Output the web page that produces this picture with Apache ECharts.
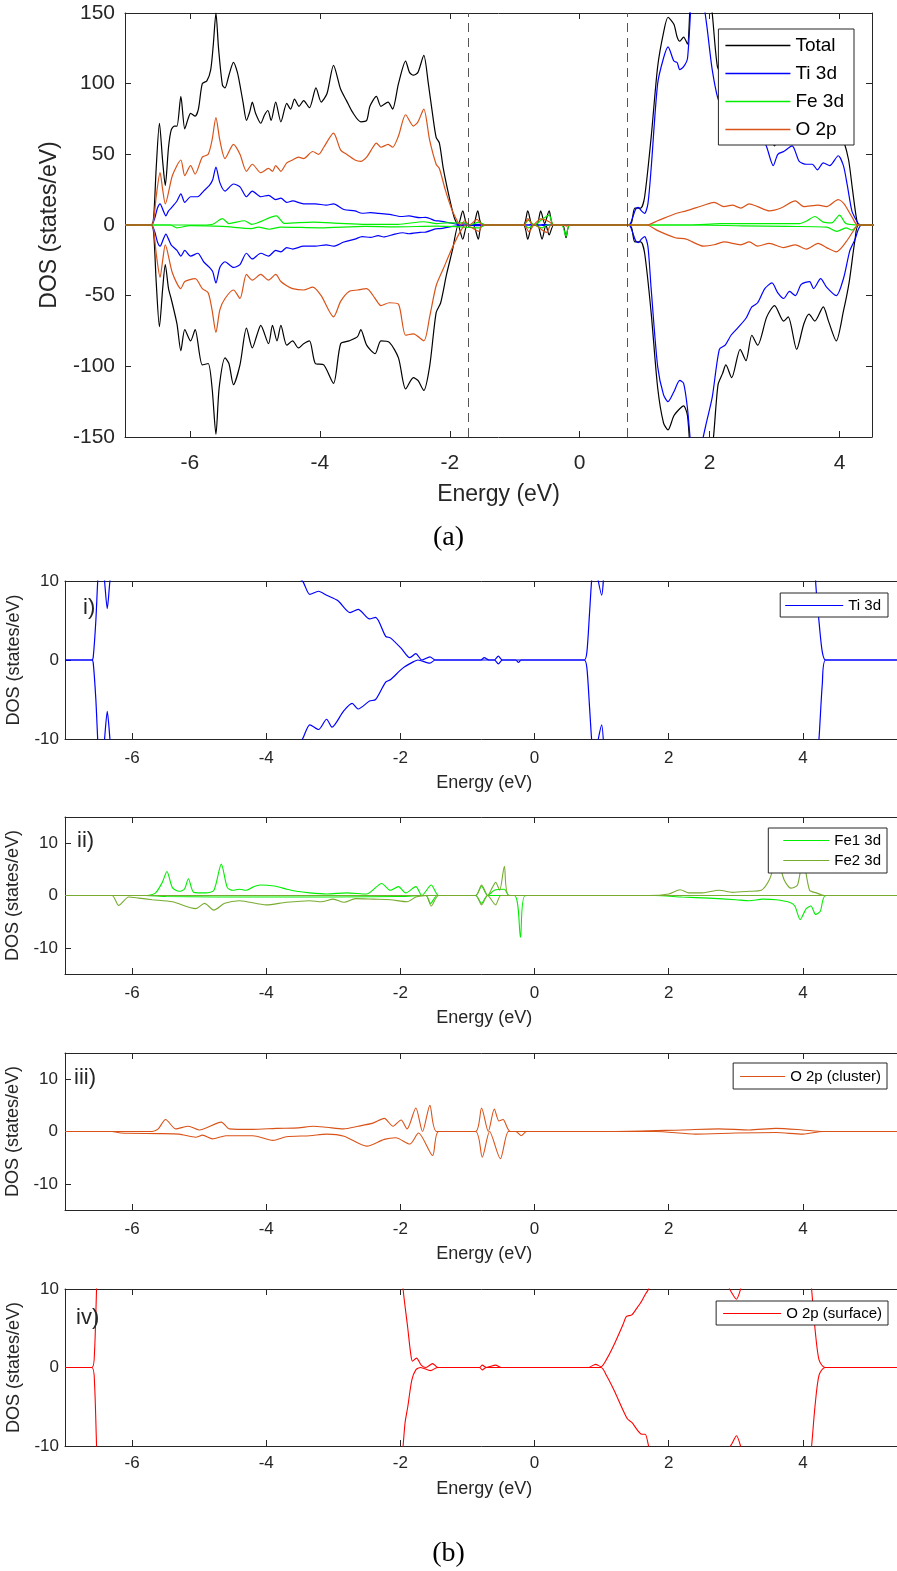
<!DOCTYPE html>
<html><head><meta charset="utf-8">
<script src="https://cdn.jsdelivr.net/npm/echarts@6/dist/echarts.min.js"></script>
<style>html,body{margin:0;padding:0;background:#fff}#c{width:897px;height:1571px}</style>
</head><body><div id="c"></div><script>
// ---------------- data ----------------
const xTicks = [-6, -4, -2, 0, 2, 4];
const yTicksA = [-150, -100, -50, 0, 50, 100, 150];
const yTicksB = [-10, 0, 10];
const dashedE = [-1.72, 0.73];
const panelLabels = ['i)', 'ii)', 'iii)', 'iv)'];

const totalUp = [[-7,0],[-6.6,0],[-6.56,5],[-6.52,40],[-6.47,72],[-6.42,45],[-6.38,28],[-6.33,55],[-6.29,67],[-6.24,70],[-6.2,70],[-6.14,91],[-6.08,68],[-6.03,75],[-5.99,79],[-5.92,77],[-5.87,82],[-5.81,100],[-5.74,102],[-5.68,110],[-5.64,128],[-5.6,150],[-5.56,125],[-5.5,99],[-5.46,97],[-5.4,106],[-5.33,115],[-5.27,108],[-5.23,99],[-5.18,86],[-5.13,74],[-5.08,80],[-5.04,87],[-4.99,79],[-4.91,72],[-4.85,78],[-4.8,81],[-4.75,74],[-4.68,87],[-4.6,73],[-4.51,86],[-4.45,82],[-4.39,89],[-4.32,84],[-4.25,88],[-4.16,83],[-4.06,97],[-3.98,87],[-3.89,93],[-3.79,113],[-3.68,96],[-3.59,88],[-3.5,80],[-3.37,73],[-3.28,74],[-3.23,84],[-3.13,91],[-3.06,84],[-2.95,87],[-2.88,82],[-2.79,100],[-2.68,116],[-2.62,108],[-2.56,106],[-2.49,108],[-2.4,120],[-2.33,100],[-2.27,80],[-2.21,62],[-2.16,58],[-2.1,40],[-2.01,20],[-1.93,5],[-1.87,0],[-1.8,10],[-1.73,0],[-1.64,0],[-1.57,10],[-1.5,0],[-0.87,0],[-0.8,10],[-0.73,0],[-0.66,0],[-0.6,10],[-0.54,1],[-0.47,10],[-0.4,0],[0.76,0],[0.8,2],[0.85,12],[0.94,12],[1.0,20],[1.1,62],[1.2,112],[1.29,136],[1.36,147],[1.45,142],[1.5,133],[1.54,130],[1.6,133],[1.66,128],[1.7,155],[1.8,200],[1.95,185],[2.04,150],[2.12,112],[2.2,105],[2.27,100],[2.34,104],[2.47,90],[2.56,94],[2.65,80],[2.74,84],[2.88,72],[3.0,56],[3.14,70],[3.21,68],[3.34,76],[3.45,64],[3.53,62],[3.62,66],[3.75,60],[3.83,64],[3.95,72],[4.06,60],[4.14,46],[4.2,25],[4.26,5],[4.3,0],[5.5,0]];

const totalDown = [[-7,0],[-6.6,0],[-6.56,-5],[-6.52,-40],[-6.47,-72],[-6.42,-45],[-6.38,-28],[-6.33,-45],[-6.29,-52],[-6.2,-70],[-6.14,-89],[-6.08,-74],[-5.99,-82],[-5.92,-74],[-5.81,-99],[-5.72,-98],[-5.66,-115],[-5.6,-148],[-5.55,-115],[-5.46,-94],[-5.4,-98],[-5.33,-113],[-5.23,-99],[-5.13,-73],[-5.04,-87],[-4.97,-78],[-4.91,-71],[-4.79,-84],[-4.73,-71],[-4.66,-82],[-4.6,-71],[-4.51,-85],[-4.42,-82],[-4.33,-87],[-4.25,-84],[-4.16,-82],[-4.07,-98],[-3.94,-99],[-3.79,-112],[-3.68,-84],[-3.55,-82],[-3.42,-79],[-3.37,-74],[-3.28,-85],[-3.15,-91],[-3.06,-82],[-2.93,-83],[-2.79,-94],[-2.68,-116],[-2.56,-108],[-2.49,-110],[-2.4,-117],[-2.31,-100],[-2.21,-62],[-2.14,-55],[-2.05,-35],[-1.96,-18],[-1.87,0],[-1.8,-10],[-1.73,0],[-1.64,0],[-1.56,-10],[-1.5,0],[-0.87,0],[-0.8,-10],[-0.73,0],[-0.65,0],[-0.58,-10],[-0.52,0],[-0.47,-7],[-0.4,0],[-0.26,0],[-0.21,-9],[-0.15,0],[0.76,0],[0.8,-2],[0.85,-12],[0.94,-12],[1.0,-20],[1.1,-62],[1.2,-115],[1.29,-140],[1.36,-145],[1.45,-135],[1.54,-130],[1.6,-128],[1.66,-135],[1.72,-170],[1.85,-200],[1.97,-185],[2.06,-150],[2.13,-113],[2.2,-105],[2.25,-99],[2.34,-108],[2.47,-88],[2.56,-96],[2.65,-78],[2.74,-85],[2.88,-65],[3.0,-57],[3.14,-68],[3.21,-65],[3.34,-88],[3.45,-70],[3.53,-63],[3.62,-68],[3.75,-58],[3.83,-68],[3.95,-82],[4.06,-61],[4.15,-40],[4.24,-10],[4.3,0],[5.5,0]];

const tiUp = [[-7,0],[-6.6,0],[-6.58,0.3],[-6.54,5],[-6.5,12],[-6.46,15],[-6.41,10],[-6.37,6.5],[-6.33,10],[-6.29,12],[-6.2,17],[-6.14,22],[-6.08,16],[-5.99,20],[-5.88,20],[-5.79,24],[-5.7,28],[-5.65,32],[-5.6,41],[-5.54,30],[-5.46,24],[-5.33,29],[-5.23,27],[-5.13,20],[-5.04,24],[-4.91,20],[-4.79,21],[-4.68,18],[-4.6,19],[-4.51,16],[-4.42,17],[-4.25,15],[-4.07,15],[-3.9,14],[-3.79,15],[-3.63,11],[-3.46,10],[-3.35,8.3],[-3.22,8.7],[-3.1,8.2],[-2.93,7.5],[-2.75,6],[-2.63,6.4],[-2.46,5.2],[-2.37,5.4],[-2.22,3],[-2.15,2.8],[-1.99,1.5],[-1.86,0.3],[-1.77,0.8],[-1.68,0],[-1.56,0.4],[-1.48,0],[-0.8,0],[-0.75,0.3],[-0.68,0],[-0.6,0],[-0.54,0.5],[-0.48,0],[0.74,0],[0.78,1],[0.82,6],[0.86,11],[0.9,12.5],[0.95,10],[1.0,8.2],[1.05,15],[1.1,40],[1.2,100],[1.29,118],[1.36,126],[1.45,116],[1.5,115],[1.54,110],[1.6,112],[1.66,118],[1.72,160],[1.8,190],[1.9,160],[1.96,140],[2.04,110],[2.14,88],[2.25,84],[2.34,90],[2.47,75],[2.56,80],[2.65,66],[2.74,70],[2.88,55],[2.98,42],[3.05,50],[3.14,52],[3.27,56],[3.38,45],[3.49,43],[3.58,43],[3.66,39],[3.75,44],[3.85,42],[3.98,49],[4.06,42],[4.12,28],[4.19,10],[4.25,4],[4.29,1],[4.34,0],[5.5,0]];

const tiDown = [[-7,0],[-6.6,0],[-6.58,-0.3],[-6.54,-5],[-6.5,-12],[-6.46,-15],[-6.41,-10],[-6.37,-6.5],[-6.33,-10],[-6.29,-14],[-6.2,-18],[-6.14,-22],[-6.08,-18],[-5.99,-22],[-5.88,-20],[-5.79,-26],[-5.7,-30],[-5.65,-33],[-5.6,-41],[-5.54,-30],[-5.46,-26],[-5.33,-30],[-5.23,-28],[-5.13,-20],[-5.04,-24],[-4.91,-20],[-4.79,-22],[-4.68,-18],[-4.6,-19],[-4.51,-16],[-4.42,-17],[-4.25,-15],[-4.07,-15],[-3.9,-14],[-3.79,-15],[-3.63,-12],[-3.46,-10],[-3.35,-8.2],[-3.22,-8.8],[-3.1,-7.5],[-3.02,-8.5],[-2.85,-6.5],[-2.72,-5.5],[-2.63,-6.2],[-2.46,-5.2],[-2.37,-5],[-2.22,-2.8],[-2.15,-2.5],[-1.96,-1],[-1.8,-0.2],[-1.74,0],[-1.56,-0.4],[-1.48,0],[-0.6,0],[-0.54,-0.5],[-0.48,0],[-0.28,0],[-0.24,-0.3],[-0.2,0],[0.74,0],[0.78,-1],[0.82,-6],[0.86,-11],[0.9,-12.5],[0.95,-10],[1.0,-8.2],[1.05,-15],[1.1,-45],[1.2,-100],[1.29,-120],[1.36,-125],[1.45,-118],[1.54,-110],[1.6,-112],[1.66,-130],[1.72,-160],[1.8,-180],[1.88,-155],[1.95,-140],[2.04,-122],[2.15,-88],[2.24,-85],[2.33,-78],[2.43,-73],[2.56,-66],[2.65,-58],[2.74,-55],[2.85,-45],[2.96,-41],[3.05,-48],[3.14,-52],[3.23,-47],[3.32,-50],[3.41,-42],[3.54,-40],[3.6,-45],[3.71,-38],[3.8,-44],[3.95,-50],[4.06,-38],[4.16,-18],[4.24,-10],[4.29,-3],[4.34,0],[5.5,0]];

const feUp = [[-7,0],[-5.8,0],[-5.65,0.5],[-5.5,4.5],[-5.4,1],[-5.16,3],[-5.05,0.5],[-4.67,6.5],[-4.55,1.2],[-4.4,1.5],[-4.1,2],[-3.7,1.2],[-3.3,0.5],[-2.8,0.5],[-2.4,2.3],[-2.2,1],[-2.05,1.5],[-1.77,1.5],[-1.7,0],[-1.55,2],[-1.45,0],[-0.86,0],[-0.79,3.5],[-0.7,0],[-0.58,4],[-0.47,7],[-0.4,0],[1.7,0],[2.17,1],[2.75,1],[3.38,1],[3.5,3],[3.62,6],[3.75,2],[3.88,1.5],[4.0,7],[4.1,1],[4.3,0],[5.5,0]];
const feDown = [[-7,0],[-6.3,0],[-6.2,-2],[-6.0,-0.5],[-5.5,-1],[-5.05,-2.5],[-4.95,-1.5],[-4.78,-3],[-4.6,-1.5],[-4.0,-2],[-3.3,-1],[-2.84,-1.3],[-2.2,-0.8],[-1.9,-1.2],[-1.55,-2],[-1.45,0],[-0.86,0],[-0.79,-2],[-0.7,0],[-0.58,-2],[-0.5,0],[-0.28,0],[-0.21,-8],[-0.15,0],[1.8,0],[2.5,-0.6],[3.2,-1],[3.8,-1.5],[3.96,-4.5],[4.1,-2],[4.19,-3.6],[4.3,0],[5.5,0]];

const oUp = [[-7,0],[-6.6,0],[-6.56,3],[-6.52,20],[-6.46,37],[-6.42,25],[-6.38,15],[-6.27,35],[-6.14,46],[-6.08,35],[-5.99,42],[-5.92,36],[-5.81,48],[-5.72,50],[-5.66,60],[-5.6,76],[-5.54,60],[-5.46,47],[-5.33,57],[-5.23,50],[-5.13,38],[-5.04,43],[-4.91,37],[-4.79,40],[-4.73,38],[-4.68,42],[-4.6,38],[-4.51,44],[-4.42,46],[-4.33,48],[-4.25,47],[-4.11,52],[-4.02,50],[-3.94,55],[-3.79,65],[-3.68,53],[-3.59,50],[-3.46,46],[-3.37,45],[-3.28,48],[-3.21,53],[-3.13,58],[-3.06,55],[-2.95,57],[-2.88,55],[-2.79,63],[-2.68,78],[-2.56,70],[-2.49,73],[-2.4,82],[-2.31,60],[-2.21,43],[-2.16,40],[-2.07,25],[-1.96,10],[-1.83,0],[-1.77,3],[-1.7,0],[-1.58,4],[-1.5,0],[-0.86,0],[-0.8,4.5],[-0.72,0],[-0.6,4.3],[-0.47,2.3],[-0.4,0],[1.03,0],[1.2,3],[1.47,8],[1.64,10],[1.91,14],[2.07,16],[2.22,13],[2.35,14],[2.48,12],[2.61,15],[2.74,13],[2.92,10],[3.1,12],[3.32,17],[3.45,13],[3.67,14],[3.8,13],[3.98,18],[4.07,15],[4.2,5],[4.28,0],[5.5,0]];
const oDown = [[-7,0],[-6.6,0],[-6.56,-3],[-6.52,-20],[-6.46,-37],[-6.42,-25],[-6.38,-14],[-6.27,-34],[-6.14,-45],[-6.08,-40],[-5.92,-38],[-5.81,-45],[-5.72,-48],[-5.66,-60],[-5.6,-76],[-5.54,-60],[-5.46,-52],[-5.33,-46],[-5.23,-52],[-5.13,-35],[-5.04,-39],[-4.91,-35],[-4.79,-39],[-4.68,-35],[-4.6,-40],[-4.51,-43],[-4.42,-45],[-4.25,-46],[-4.11,-44],[-3.98,-50],[-3.79,-65],[-3.68,-54],[-3.55,-47],[-3.42,-46],[-3.28,-45],[-3.15,-52],[-3.06,-57],[-2.93,-55],[-2.79,-56],[-2.68,-78],[-2.56,-77],[-2.4,-82],[-2.31,-65],[-2.21,-43],[-2.1,-31],[-1.96,-16],[-1.83,-4],[-1.75,0],[-1.55,-4.5],[-1.5,0],[-0.86,0],[-0.78,-4.8],[-0.7,0],[-0.51,-5.2],[-0.44,0],[-0.25,0],[-0.2,-0.8],[-0.15,0],[1.03,0],[1.2,-4],[1.47,-9],[1.64,-10],[1.91,-15],[2.07,-14],[2.22,-12],[2.48,-14],[2.61,-12],[2.74,-15],[2.92,-13],[3.14,-16],[3.32,-14],[3.49,-17],[3.67,-13],[3.8,-16],[3.95,-19],[4.1,-12],[4.23,-3],[4.28,0],[5.5,0]];

const fe1Up = [[-7,0],[-5.78,0],[-5.65,0.5],[-5.55,2.5],[-5.48,4.6],[-5.4,1.5],[-5.3,0.8],[-5.22,1.2],[-5.16,3.2],[-5.08,0.6],[-4.9,0.5],[-4.78,1],[-4.67,6],[-4.58,1.5],[-4.5,1],[-4.4,1.2],[-4.3,1],[-4.2,1.6],[-4.09,2],[-3.88,1.8],[-3.69,1.2],[-3.55,0.8],[-3.35,0.5],[-3.1,0.3],[-2.8,0.5],[-2.5,0.3],[-2.28,2.3],[-2.15,1],[-2.03,1.7],[-1.92,0.5],[-1.77,1.7],[-1.68,0],[-1.54,2],[-1.43,0],[-0.88,0],[-0.79,1.8],[-0.7,0],[-0.6,1],[-0.45,1.2],[-0.38,0],[5.5,0]];
const fe1Down = [[-7,0],[-5.8,0],[-5.5,-0.2],[-4,-0.3],[-2,-0.2],[-1.62,0],[-1.55,-1.5],[-1.45,0],[-0.88,0],[-0.79,-1.5],[-0.7,0],[-0.3,0],[-0.21,-8],[-0.14,0],[1.8,0],[2.2,-0.3],[2.6,-0.5],[3.0,-0.8],[3.2,-1],[3.4,-0.7],[3.6,-0.8],[3.8,-1.3],[3.88,-2],[3.96,-4.6],[4.05,-2.5],[4.12,-2],[4.19,-3.6],[4.26,-3],[4.34,0],[5.5,0]];
const fe2Up = [[-7,0],[-0.88,0],[-0.79,2],[-0.7,0],[-0.63,1.5],[-0.58,2.5],[-0.52,1],[-0.45,5.6],[-0.38,0],[1.7,0],[2.0,0.3],[2.17,1.1],[2.3,0.5],[2.5,0.5],[2.75,1],[2.95,0.6],[3.2,0.8],[3.38,1],[3.5,3],[3.62,7],[3.72,3],[3.82,1.4],[3.92,2],[4.0,7],[4.1,1],[4.2,0.5],[4.32,0],[5.5,0]];
const fe2Down = [[-7,0],[-6.3,0],[-6.2,-1.9],[-6.05,-0.3],[-5.9,-0.5],[-5.7,-0.8],[-5.4,-1.2],[-5.05,-2.5],[-4.92,-1.5],[-4.78,-2.8],[-4.62,-1.5],[-4.4,-1],[-4.0,-1.8],[-3.7,-1.3],[-3.35,-1],[-3.18,-1.2],[-3.0,-0.7],[-2.84,-1.3],[-2.67,-0.6],[-2.4,-0.7],[-2.15,-0.8],[-1.9,-1.2],[-1.77,-0.3],[-1.62,0],[-1.54,-2],[-1.43,0],[-0.88,0],[-0.79,-1.8],[-0.7,0],[-0.58,-1.8],[-0.5,0],[5.5,0]];

const oClUp = [[-7,0],[-5.7,0],[-5.61,0.5],[-5.5,2.3],[-5.35,0.5],[-5.16,1],[-5.0,0.3],[-4.67,1.8],[-4.55,0.5],[-4.2,0.4],[-3.85,0.6],[-3.52,0.7],[-3.3,1],[-3.1,0.8],[-2.85,0.5],[-2.63,1],[-2.41,1.6],[-2.24,2.5],[-2.11,1],[-1.99,2.2],[-1.9,0.5],[-1.77,4.5],[-1.67,0],[-1.56,5],[-1.46,0],[-0.88,0],[-0.79,4.5],[-0.69,0],[-0.6,4.3],[-0.53,2],[-0.47,2.3],[-0.36,0],[1.2,0],[2.2,0.3],[2.75,0.5],[3.2,0.3],[3.6,0.6],[4.0,0.3],[4.3,0],[5.5,0]];
const oClDown = [[-7,0],[-6.3,0],[-6.17,-0.3],[-5.6,-0.4],[-5.3,-0.5],[-5.05,-1.1],[-4.95,-0.7],[-4.8,-1.4],[-4.6,-0.8],[-4.2,-0.8],[-3.9,-1.7],[-3.7,-1],[-3.35,-0.8],[-3.1,-0.5],[-2.84,-0.9],[-2.5,-2.8],[-2.24,-1.5],[-2.07,-1.2],[-1.86,-2.4],[-1.73,-0.3],[-1.52,-4.6],[-1.43,0],[-0.88,0],[-0.78,-4.9],[-0.67,0],[-0.51,-5.2],[-0.39,0],[-0.28,0],[-0.2,-0.8],[-0.12,0],[1.8,0],[2.4,-0.5],[3.0,-0.3],[3.6,-0.2],[4.0,-0.5],[4.3,0],[5.5,0]];

const oSfUp = [[-7,0],[-6.6,0],[-6.56,2],[-6.52,12],[-6.46,18],[-6.38,12],[-6.14,24],[-5.6,35],[-5.0,35],[-4.0,45],[-3.0,55],[-2.4,80],[-2.2,40],[-2.05,20],[-1.96,10],[-1.89,5],[-1.85,2],[-1.82,0.8],[-1.76,1.2],[-1.69,0.3],[-1.62,0],[-1.52,0.5],[-1.44,0],[-0.82,0],[-0.78,0.3],[-0.72,0],[-0.58,0.3],[-0.5,0],[0.8,0],[0.91,0.4],[0.99,0.1],[1.07,1],[1.19,3],[1.32,5.5],[1.37,6.5],[1.45,6.7],[1.52,7.5],[1.6,8.5],[1.65,9.3],[1.7,10],[1.8,13],[2.07,16],[2.5,13],[2.85,11],[2.92,9.8],[3.01,8.7],[3.09,10.5],[3.32,16],[3.98,17],[4.1,13],[4.13,10],[4.18,5],[4.24,1],[4.33,0],[5.5,0]];
const oSfDown = [[-7,0],[-6.6,0],[-6.56,-2],[-6.52,-12],[-6.46,-18],[-6.38,-12],[-6.14,-24],[-5.0,-35],[-4.0,-45],[-3.0,-55],[-2.4,-80],[-2.2,-40],[-2.05,-18],[-1.96,-10],[-1.93,-7],[-1.89,-5],[-1.83,-1.6],[-1.77,-0.3],[-1.7,0],[-1.55,-0.4],[-1.45,0],[-0.82,0],[-0.78,-0.3],[-0.72,0],[0.99,0],[1.07,-1],[1.19,-3],[1.38,-6.5],[1.45,-7],[1.6,-8.5],[1.65,-8.5],[1.7,-10],[1.8,-13],[2.07,-14],[2.5,-13],[2.92,-10],[3.01,-8.7],[3.09,-10.5],[3.3,-15],[3.95,-18],[4.1,-12],[4.13,-10],[4.18,-5],[4.24,-1],[4.33,0],[5.5,0]];

// ---------------- styling / layout ----------------
const AX = '#262626';
const FONT = 'Liberation Sans, Arial, sans-serif';
const C = { total:'#000000', ti:'#0000FF', fe:'#00EE00', o:'#D95319', fe2:'#77AC30', osf:'#FF0000' };

const grids = [
  {left:125, top:13, width:747, height:424},
  {left:65, top:581, width:838.5, height:158},
  {left:65, top:817, width:838.5, height:157},
  {left:65, top:1053, width:838.5, height:157},
  {left:65, top:1289, width:838.5, height:157}
];
grids.forEach(g => { g.outerBoundsMode = 'none'; g.containLabel = false; });

function xPair(gi, min, max, fs, nfs, margin, gap) {
  const line = {show:true, onZero:false, lineStyle:{color:AX, width:1}};
  const tick = {show:true, inside:true, length:6, customValues:xTicks, lineStyle:{color:AX}};
  return [
    {type:'value', gridIndex:gi, min, max, position:'bottom', name:'Energy (eV)', nameLocation:'middle', nameGap:gap,
     nameTextStyle:{fontSize:nfs, color:AX, fontFamily:FONT}, axisLine:line, axisTick:tick,
     axisLabel:{show:true, customValues:xTicks, fontSize:fs, color:AX, fontFamily:FONT, margin}, splitLine:{show:false}},
    {type:'value', gridIndex:gi, min, max, position:'top', axisLine:line, axisTick:tick, axisLabel:{show:false}, splitLine:{show:false}}
  ];
}
function yPair(gi, min, max, ticks, fs, nfs, margin, gap) {
  const line = {show:true, onZero:false, lineStyle:{color:AX, width:1}};
  const tick = {show:true, inside:true, length:6, customValues:ticks, lineStyle:{color:AX}};
  return [
    {type:'value', gridIndex:gi, min, max, position:'left', name:'DOS (states/eV)', nameLocation:'middle', nameGap:gap,
     nameTextStyle:{fontSize:nfs, color:AX, fontFamily:FONT}, axisLine:line, axisTick:tick,
     axisLabel:{show:true, customValues:ticks, fontSize:fs, color:AX, fontFamily:FONT, margin}, splitLine:{show:false}},
    {type:'value', gridIndex:gi, min, max, position:'right', axisLine:line, axisTick:tick, axisLabel:{show:false}, splitLine:{show:false}}
  ];
}

const xAxes = [].concat(
  xPair(0, -7, 4.5, 21, 23, 16, 46),
  xPair(1, -7, 5.5, 17, 18, 11, 35),
  xPair(2, -7, 5.5, 17, 18, 11, 35),
  xPair(3, -7, 5.5, 17, 18, 11, 35),
  xPair(4, -7, 5.5, 17, 18, 9, 34)
);
const yAxes = [].concat(
  yPair(0, -150, 150, yTicksA, 21, 23, 10, 64),
  yPair(1, -10, 10, yTicksB, 17, 18, 6, 35),
  yPair(2, -15, 15, yTicksB, 17, 18, 7, 35),
  yPair(3, -15, 15, yTicksB, 17, 18, 7, 35),
  yPair(4, -10, 10, yTicksB, 17, 18, 6, 35)
);

function line(name, data, gi, color, width, extra) {
  return Object.assign({
    type:'line', name, data, xAxisIndex:2*gi, yAxisIndex:2*gi,
    showSymbol:false, symbol:'none', smooth:0.25, clip:true, animation:false,
    lineStyle:{color, width}, itemStyle:{color}, emphasis:{disabled:true}
  }, extra || {});
}

const series = [
  line('Total', totalUp, 0, C.total, 1.2, {markLine:{symbol:'none', silent:true, animation:false, label:{show:false},
      lineStyle:{type:[9,6], color:'#555', width:1}, data: dashedE.map(e => ({xAxis:e}))}}),
  line('Total', totalDown, 0, C.total, 1.2),
  line('Ti 3d', tiUp, 0, C.ti, 1.2),
  line('Ti 3d', tiDown, 0, C.ti, 1.2),
  line('Fe 3d', feUp, 0, C.fe, 1.2),
  line('Fe 3d', feDown, 0, C.fe, 1.2),
  line('O 2p', oUp, 0, C.o, 1.2),
  line('O 2p', oDown, 0, C.o, 1.2),

  line('Ti 3d', tiUp, 1, C.ti, 1.2),
  line('Ti 3d', tiDown, 1, C.ti, 1.2),

  line('Fe1 3d', fe1Up, 2, C.fe, 1.1),
  line('Fe1 3d', fe1Down, 2, C.fe, 1.1),
  line('Fe2 3d', fe2Up, 2, C.fe2, 1.1),
  line('Fe2 3d', fe2Down, 2, C.fe2, 1.1),

  line('O 2p (cluster)', oClUp, 3, C.o, 1.1),
  line('O 2p (cluster)', oClDown, 3, C.o, 1.1),

  line('O 2p (surface)', oSfUp, 4, C.osf, 1.1),
  line('O 2p (surface)', oSfDown, 4, C.osf, 1.1)
];

function legend(data, pos, fs, iw, ih, gap, pad) {
  return Object.assign({
    data, orient:'vertical', selectedMode:false, icon:'rect', itemWidth:iw, itemHeight:ih, itemGap:gap, padding:pad,
    borderColor:AX, borderWidth:1, backgroundColor:'#fff', borderRadius:0, z:10,
    textStyle:{fontSize:fs, color:'#000', fontFamily:FONT}
  }, pos);
}
const legends = [
  legend(['Total','Ti 3d','Fe 3d','O 2p'], {right:43, top:29}, 19, 65, 1.5, 9, [7,10,6,7]),
  legend(['Ti 3d'], {right:9, top:593}, 15, 58, 1.2, 5, [5,7,4,5]),
  legend(['Fe1 3d','Fe2 3d'], {right:10, top:828}, 15, 46, 1.2, 5, [5,6,5,15]),
  legend(['O 2p (cluster)'], {right:10, top:1063}, 15, 45, 1.2, 5, [6,6,5,7]),
  legend(['O 2p (surface)'], {right:9, top:1301}, 15, 58, 1.2, 5, [5,6,4,7])
];

const labelPos = [[83,610],[77,843],[74,1080],[76,1320]];
const graphics = panelLabels.map((t, i) => ({
  type:'text', left:labelPos[i][0], top:labelPos[i][1]-13, z:20,
  style:{text:t, fontSize:22, fill:AX, fontFamily:FONT}
})).concat([
  {type:'text', left:'center', top:524, style:{text:'(a)', fontSize:28, fill:'#000', fontFamily:'Liberation Serif, DejaVu Serif, serif'}},
  {type:'text', left:'center', top:1540, style:{text:'(b)', fontSize:28, fill:'#000', fontFamily:'Liberation Serif, DejaVu Serif, serif'}}
]);

const chart = echarts.init(document.getElementById('c'), null, {renderer:'canvas'});
chart.setOption({
  backgroundColor:'#fff',
  animation:false,
  grid: grids,
  xAxis: xAxes,
  yAxis: yAxes,
  legend: legends,
  series,
  graphic: graphics
});
</script></body></html>
